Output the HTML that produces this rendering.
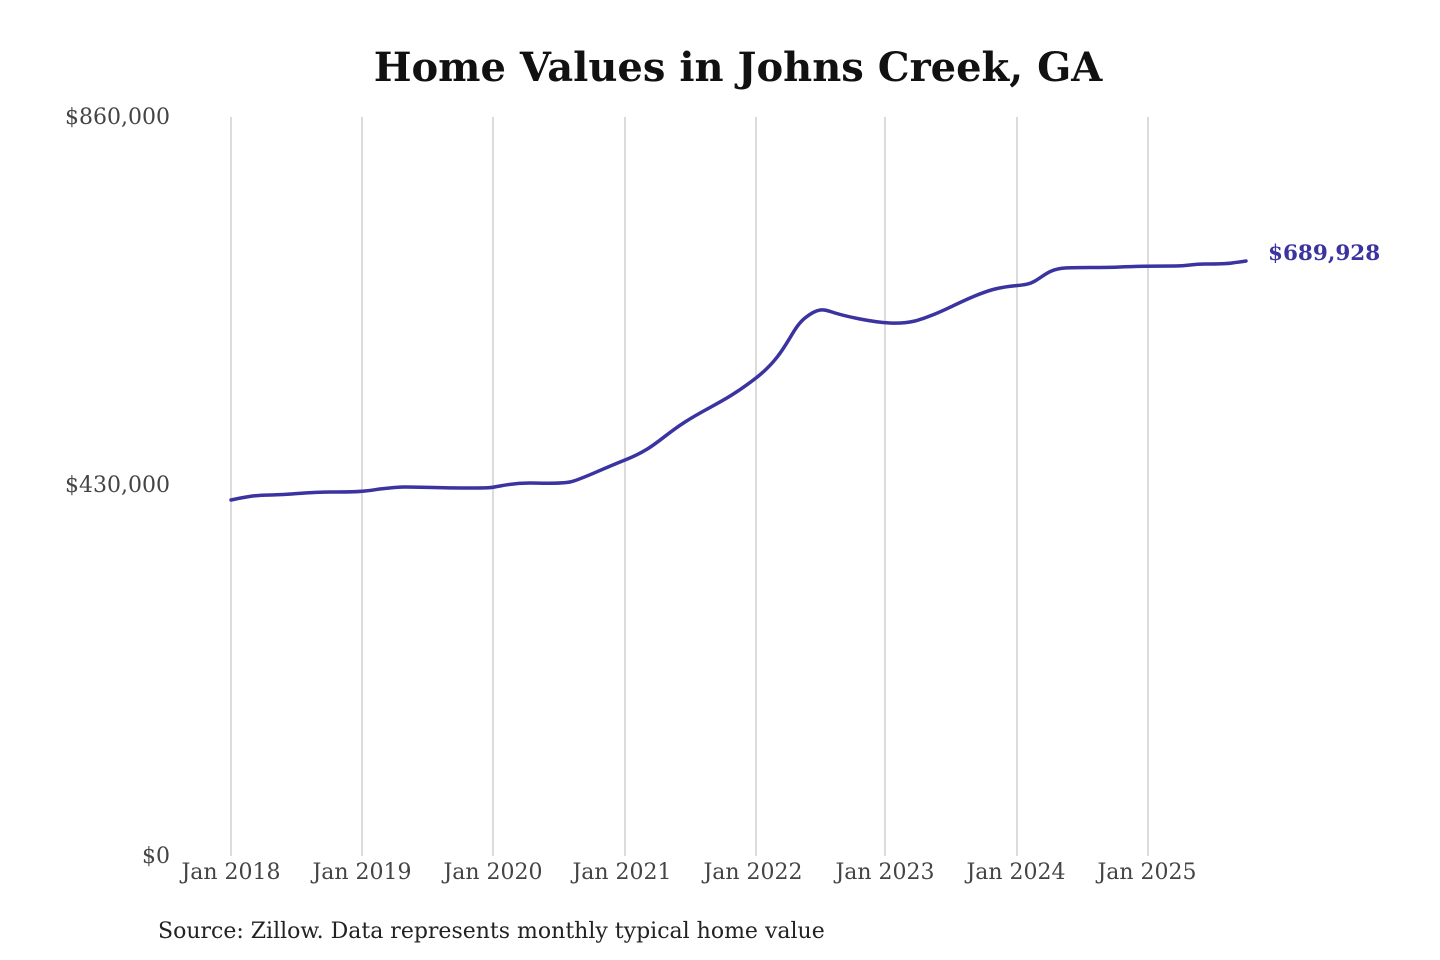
<!DOCTYPE html>
<html><head><meta charset="utf-8"><style>
html,body{margin:0;padding:0;background:#fff;}
svg{display:block;}
</style></head><body>
<svg width="1440" height="960" xmlns="http://www.w3.org/2000/svg">
<text x="738" y="81" text-anchor="middle" font-family="DejaVu Serif, serif" font-weight="bold" font-size="40" fill="#111">Home Values in Johns Creek, GA</text>
<g stroke="#c8c8c8" stroke-width="1.3">
<line x1="231" y1="117" x2="231" y2="856"/>
<line x1="362" y1="117" x2="362" y2="856"/>
<line x1="493" y1="117" x2="493" y2="856"/>
<line x1="625" y1="117" x2="625" y2="856"/>
<line x1="756" y1="117" x2="756" y2="856"/>
<line x1="885" y1="117" x2="885" y2="856"/>
<line x1="1017" y1="117" x2="1017" y2="856"/>
<line x1="1148" y1="117" x2="1148" y2="856"/>
</g>
<g font-family="DejaVu Serif, serif" font-size="22" fill="#444">
<text x="170" y="124" text-anchor="end">$860,000</text>
<text x="170" y="492" text-anchor="end">$430,000</text>
<text x="170" y="863" text-anchor="end">$0</text>
<g text-anchor="middle">
<text x="231" y="879">Jan 2018</text>
<text x="362" y="879">Jan 2019</text>
<text x="493" y="879">Jan 2020</text>
<text x="622" y="879">Jan 2021</text>
<text x="753" y="879">Jan 2022</text>
<text x="885" y="879">Jan 2023</text>
<text x="1016" y="879">Jan 2024</text>
<text x="1147" y="879">Jan 2025</text>
</g>
</g>
<path d="M231,500 C245,497 255,495 270,495 S310,492 330,492 S355,492 365,491 S390,487 405,487 S440,488 465,488 S490,488 500,486 S520,483 530,483 S560,484 570,482 S595,472 625,460 S660,438 685,422 S725,402 756,378 S790,330 805,318 S825,310 835,313 S870,322 890,323 S920,320 935,314 S975,294 995,289 S1025,287 1035,281 S1050,269 1065,268 S1100,268 1120,267 S1160,266 1175,266 S1190,264 1205,264 S1225,264 1232,263 S1240,262 1246,261" fill="none" stroke="#3a33a0" stroke-width="3.5" stroke-linecap="round" stroke-linejoin="round"/>
<text x="1268" y="260" font-family="DejaVu Serif, serif" font-weight="bold" font-size="21.5" fill="#3a33a0">$689,928</text>
<text x="158" y="938" font-family="DejaVu Serif, serif" font-size="22" fill="#222">Source: Zillow. Data represents monthly typical home value</text>
</svg>
</body></html>
